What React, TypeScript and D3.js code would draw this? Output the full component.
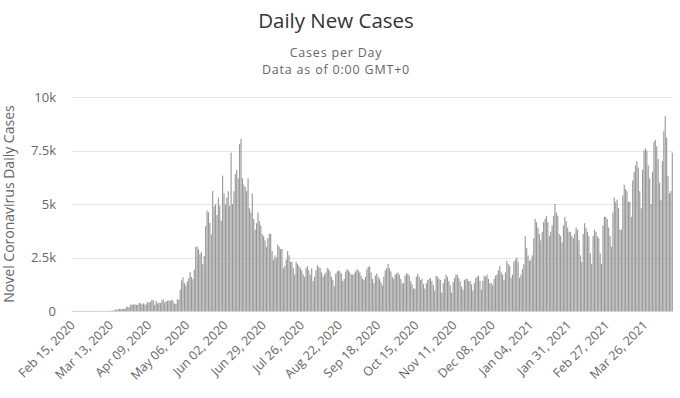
import React from 'react';
import * as d3 from 'd3';

// daily new cases, one array per month (first day: Feb 15, 2020)
const feb2020 = [0, 0, 0, 0, 0, 0, 0, 0, 0, 0, 0, 0, 0, 0, 0];
const mar2020 = [0, 0, 1, 2, 1, 1, 2, 3, 3, 4, 6, 10, 10, 18, 14, 81, 46, 82, 104, 92, 100, 95, 114, 176, 220, 164, 304, 299, 301, 310, 289];
const apr2020 = [293, 373, 362, 308, 360, 301, 315, 426, 395, 426, 529, 502, 286, 473, 357, 392, 368, 494, 552, 408, 446, 485, 492, 473, 522, 482, 344, 336, 552, 528];
const may2020 = [985, 1427, 1577, 1309, 1186, 1373, 1533, 1820, 1590, 1485, 1930, 2996, 3012, 2880, 2659, 2765, 2183, 2578, 3964, 4695, 4610, 4118, 3580, 5617, 4895, 4996, 4484, 5300, 4926, 4220, 6327];
const jun2020 = [5500, 4980, 5300, 5600, 4900, 7400, 5000, 5600, 6400, 6600, 6200, 7800, 8050, 6200, 5900, 5800, 5600, 6200, 4800, 4600, 5500, 4300, 3800, 4100, 4600, 4200, 4000, 3600, 3500, 3300];
const jul2020 = [3000, 3400, 3600, 3600, 2800, 2400, 2600, 2500, 3100, 3000, 2900, 2900, 2000, 2100, 2400, 2800, 2600, 2300, 2300, 2000, 1700, 2300, 2200, 2100, 2000, 1900, 1700, 1600, 2000, 2100, 1900];
const aug2020 = [1700, 2000, 1400, 1600, 1900, 2150, 2050, 2000, 1800, 1600, 1700, 1800, 2000, 1950, 1850, 1600, 1450, 1150, 1750, 1850, 1900, 1850, 1750, 1400, 1500, 1850, 1950, 1900, 1800, 1700, 1700];
const sep2020 = [1750, 1850, 1950, 1900, 1800, 1650, 1500, 1450, 1600, 1950, 2050, 2100, 1800, 1500, 1300, 1650, 1750, 1600, 1500, 1350, 1200, 1600, 1900, 2000, 2200, 2000, 1850, 1600, 1500, 1700];
const oct2020 = [1750, 1800, 1700, 1500, 1300, 1300, 1650, 1750, 1750, 1650, 1400, 1250, 1050, 1050, 1600, 1750, 1600, 1450, 1500, 1250, 1050, 1300, 1450, 1500, 1550, 1400, 1200, 950, 1650, 1600, 1500];
const nov2020 = [1450, 850, 1300, 1500, 1700, 1600, 1400, 1200, 850, 1350, 1550, 1700, 1700, 1550, 1400, 1150, 1000, 1450, 1500, 1500, 1400, 1400, 1250, 950, 1300, 1550, 1600, 1650, 1400, 1000];
const dec2020 = [1400, 1650, 1600, 1700, 1500, 1300, 1300, 1200, 1500, 1650, 1700, 1900, 2100, 1800, 1700, 1450, 1800, 2350, 2200, 2100, 1550, 1700, 2300, 2400, 2500, 2300, 1550, 1700, 1950, 2200, 3500];
const jan2021 = [2950, 2600, 2350, 2400, 2600, 3400, 4300, 4150, 3900, 3600, 3300, 3700, 4150, 4300, 4450, 4150, 3500, 3700, 4000, 4450, 5000, 4600, 4450, 3600, 3500, 3200, 4000, 4400, 4200, 3900, 3700];
const feb2021 = [3700, 3500, 3400, 3600, 3900, 3800, 3300, 2600, 2300, 3600, 4100, 3900, 3700, 3500, 2700, 2200, 3500, 3800, 3700, 3500, 3400, 2700, 2200, 4000, 4400, 4400, 4300, 3900];
const mar2021 = [3500, 3000, 4600, 5300, 5100, 5200, 4800, 3800, 3800, 5400, 5900, 5700, 5600, 5100, 5100, 4400, 6100, 6500, 6800, 7000, 6700, 5600, 4800, 6600, 7500, 7600, 7500, 6800, 6200, 5000, 6500];
const apr2021 = [7900, 8000, 7700, 7100, 6000, 5200, 7000, 8400, 9100, 8100, 6300, 5500, 5600, 7400];

const yTicks = [0, 2500, 5000, 7500, 10000];
const yTickLabels = ['0', '2.5k', '5k', '7.5k', '10k'];
const tickEvery = 27;

const cases = [
  ...feb2020, ...mar2020, ...apr2020, ...may2020, ...jun2020, ...jul2020, ...aug2020,
  ...sep2020, ...oct2020, ...nov2020, ...dec2020, ...jan2021, ...feb2021, ...mar2021, ...apr2021,
];
const startDate = new Date(2020, 1, 15);
const dates = cases.map((_, i) => d3.timeDay.offset(startDate, i));
const fmt = d3.timeFormat('%b %d, %Y');

const width = 680;
const height = 398;
const margin = { top: 97, right: 7, bottom: 87, left: 72 };
const font = '"Open Sans", "DejaVu Sans", sans-serif';

const App: React.FC = () => {
  const x = d3
    .scaleBand<number>()
    .domain(cases.map((_, i) => i))
    .range([margin.left, width - margin.right])
    .paddingInner(0.2)
    .paddingOuter(0.1);
  const y = d3
    .scaleLinear()
    .domain([0, 10000])
    .range([height - margin.bottom, margin.top]);

  const step = x.step();
  const labelIdx = cases.map((_, i) => i).filter(i => i % tickEvery === 0);

  return (
    <div style={{ position: 'absolute', left: 0, top: 0 }}>
      <svg width={width} height={height} style={{ display: 'block', background: '#fff', fontFamily: font }}>
        {/* titles */}
        <text x={336} y={28} textAnchor="middle" fontSize={20.5} fill="#333">Daily New Cases</text>
        <text x={336} y={56.5} textAnchor="middle" fontSize={12.5} letterSpacing={0.8} fill="#666">Cases per Day</text>
        <text x={336} y={74} textAnchor="middle" fontSize={12.5} letterSpacing={0.8} fill="#666">Data as of 0:00 GMT+0</text>

        {/* grid */}
        {yTicks.map((t, k) => (
          <g key={t}>
            <line
              x1={margin.left}
              x2={width - margin.right}
              y1={Math.round(y(t)) + 0.5}
              y2={Math.round(y(t)) + 0.5}
              stroke={t === 0 ? '#ccd6eb' : '#e6e6e6'}
              strokeWidth={1}
            />
            <text x={56} y={y(t) + 4.5} textAnchor="end" fontSize={13} fill="#666">{yTickLabels[k]}</text>
          </g>
        ))}

        {/* y axis title */}
        <text
          transform={`translate(14,${(margin.top + height - margin.bottom) / 2}) rotate(-90)`}
          textAnchor="middle"
          fontSize={14}
          fill="#666"
        >
          Novel Coronavirus Daily Cases
        </text>

        {/* bars */}
        {cases.map((v, i) => (
          <rect
            key={i}
            x={x(i)!}
            y={y(v)}
            width={x.bandwidth()}
            height={y(0) - y(v)}
            fill="#999"
          />
        ))}

        {/* x labels */}
        {labelIdx.map(i => (
          <text
            key={i}
            transform={`translate(${x(i)! + step / 2 + 3},${height - margin.bottom + 15}) rotate(-45)`}
            textAnchor="end"
            fontSize={12.5}
            fill="#666"
          >
            {fmt(dates[i])}
          </text>
        ))}
      </svg>
    </div>
  );
};

export default App;
